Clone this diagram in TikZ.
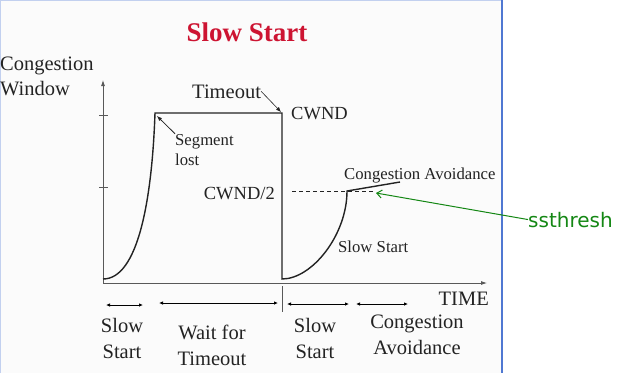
\documentclass[tikz,border=0pt]{standalone}
\usepackage{fontspec}
\setmainfont{Liberation Serif}
\newfontfamily\handfont{DejaVu Sans}
\usetikzlibrary{arrows.meta}

\definecolor{titlered}{RGB}{205,20,50}
\definecolor{slideblue}{RGB}{80,120,210}
\definecolor{notegreen}{RGB}{20,135,20}
\definecolor{inkgray}{RGB}{35,35,35}

\begin{document}
\begin{tikzpicture}[x=1pt, y=-1pt,
  axisln/.style={line width=0.8pt, black!65},
  plotln/.style={line width=1.4pt, inkgray},
  bigtxt/.style={font=\fontsize{20.5}{26}\selectfont, inner sep=0pt, text=inkgray},
  midtxt/.style={font=\fontsize{18.5}{20}\selectfont, inner sep=0pt, text=inkgray},
  smalltxt/.style={font=\fontsize{16.7}{20}\selectfont, inner sep=0pt, text=inkgray},
  spanarr/.style={line width=0.8pt, {Latex[length=4pt,width=3.5pt]}-{Latex[length=4pt,width=3.5pt]}},
  notearr/.style={line width=0.8pt, -{Latex[length=5pt,width=4pt]}}]

  \useasboundingbox (0,0) rectangle (618,373);

  % Slide frame
  \fill[gray!3] (0,0) rectangle (502,373);
  \draw[slideblue!35, line width=1pt] (0.5,373) -- (0.5,0.5) -- (502,0.5);
  \draw[slideblue, line width=1.5pt] (502,0) -- (502,373);

  % Title
  \node[font=\fontsize{27}{30}\selectfont\bfseries, text=titlered, anchor=base, inner sep=0pt] (title) at (247,41) {Slow Start};

  % Axes
  \coordinate (orig) at (103,283);
  \coordinate (ytop) at (103,80);
  \coordinate (xend) at (487,283);
  \draw[axisln, -{Latex[length=6pt,width=4pt]}] (orig) -- (ytop);
  \draw[axisln, -{Latex[length=6pt,width=4pt]}] (orig) -- (xend);
  \draw[axisln] (99,115) -- (108,115);
  \draw[axisln] (99,187) -- (108,187);
  \node[bigtxt, anchor=base west, align=left, font=\fontsize{20.5}{25}\selectfont] (ylbl) at (0,95) {Congestion\\Window};
  \node[bigtxt, anchor=base east] (xlbl) at (489,305) {TIME};

  % Window trace
  \coordinate (peak1) at (155,113);
  \coordinate (drop) at (282,113);
  \coordinate (thr) at (347,191);
  \draw[plotln] (103,279) .. controls (138,279) and (152,200) .. (peak1) -- (drop) -- (282,279)
    .. controls (312,279) and (347,235) .. (thr) -- (400,182);
  \draw[axisln] (282,286) -- (282,312);

  % Threshold
  \draw[dashed, line width=0.8pt, inkgray, dash pattern=on 4pt off 3pt] (292,191) -- (375,191);
  \node[midtxt, anchor=base east] (half) at (275,199) {CWND/2};
  \node[midtxt, anchor=base west] (full) at (291,119) {CWND};

  % Annotations
  \node[bigtxt, anchor=base west] (timeout) at (192,98) {Timeout};
  \draw[line width=0.6pt, inkgray, -{Latex[length=5pt,width=4pt]}] (timeout.east) -- (281,112);
  \node[smalltxt, anchor=base west, align=left] (seg) at (175,165) {Segment\\lost};
  \draw[notearr, inkgray] (seg.north west) -- (157,116);
  \node[smalltxt, anchor=base west] (cavoid) at (344,179) {Congestion Avoidance};
  \node[smalltxt, anchor=base west] (sstart) at (338,252) {Slow Start};

  % ssthresh note
  \node[font=\handfont\fontsize{20}{24}\selectfont, text=notegreen, anchor=base west, inner sep=0pt] (ssth) at (528,227) {ssthresh};
  \coordinate (thrend) at (376,193);
  \draw[notegreen, line width=1pt, -{Straight Barb[length=5pt,width=8pt]}] (ssth.west) -- (thrend);

  % Phases
  \draw[spanarr] (106,305) -- (143,305);
  \draw[spanarr] (159,303) -- (278,303);
  \draw[spanarr] (287,304) -- (349,304);
  \draw[spanarr] (356,304) -- (408,304);
  \node[bigtxt, anchor=base, align=center] (ph1) at (122,358) {Slow\\Start};
  \node[bigtxt, anchor=base, align=center] (ph2) at (212,365) {Wait for\\Timeout};
  \node[bigtxt, anchor=base, align=center] (ph3) at (315,358) {Slow\\Start};
  \node[bigtxt, anchor=base, align=center] (ph4) at (417,354) {Congestion\\Avoidance};

\end{tikzpicture}
\end{document}
